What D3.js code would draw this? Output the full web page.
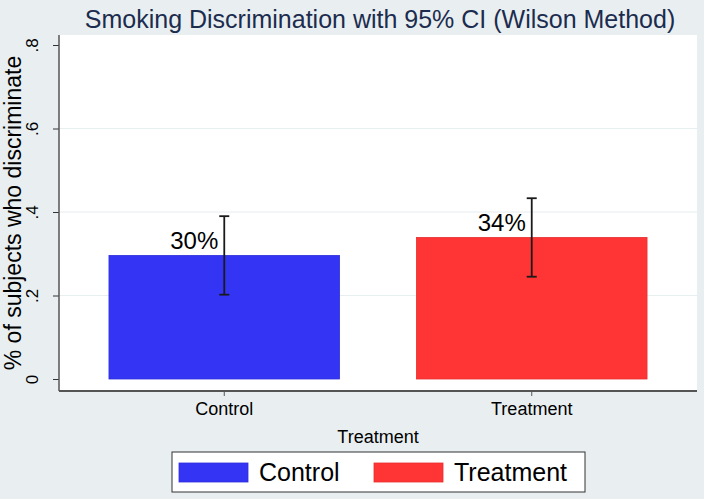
<!DOCTYPE html>
<html>
<head>
<meta charset="utf-8">
<script src="https://cdn.jsdelivr.net/npm/d3@7"></script>
<style>
  body { margin: 0; background: #e9eff1; }
  text { font-family: "Liberation Sans", Arial, sans-serif; }
</style>
</head>
<body>
<div id="chart"></div>
<script>
// data
var categories = ["Control", "Treatment"];
var means = [0.296, 0.339];
var ciLow = [0.202, 0.245];
var ciHigh = [0.390, 0.433];
var barColors = ["#3434f4", "#ff3434"];
var yTicks = [0, 0.2, 0.4, 0.6, 0.8];
var yTickLabels = ["0", ".2", ".4", ".6", ".8"];

var svgWidth = 704, svgHeight = 499;
var plot = {left: 59, right: 697, top: 35, bottom: 391};

var svg = d3.select("#chart")
    .append("svg")
    .attr("width", svgWidth)
    .attr("height", svgHeight);

svg.append("rect")
    .attr("width", svgWidth)
    .attr("height", svgHeight)
    .attr("fill", "#e9eff1");

// plot region
svg.append("rect")
    .attr("x", plot.left)
    .attr("y", plot.top)
    .attr("width", plot.right - plot.left)
    .attr("height", plot.bottom - plot.top)
    .attr("fill", "#ffffff");

var data = categories.map(function (c, i) {
    return {cat: c, mean: means[i], lo: ciLow[i], hi: ciHigh[i], color: barColors[i]};
});

var xScale = d3.scaleBand()
    .domain(categories)
    .range([plot.left, plot.right])
    .paddingInner(0.25)
    .paddingOuter(0.1625);

var yScale = d3.scaleLinear()
    .domain([0, 0.8])
    .range([379, 45]);

// gridlines
svg.append("g")
    .selectAll("line")
    .data(yTicks.filter(function (t) { return t > 0 && t < 0.8; }))
    .enter()
    .append("line")
    .attr("x1", plot.left)
    .attr("x2", plot.right)
    .attr("y1", function (d) { return yScale(d); })
    .attr("y2", function (d) { return yScale(d); })
    .attr("stroke", "#e6eef0")
    .attr("stroke-width", 1.2);

// bars
svg.append("g")
    .selectAll("rect")
    .data(data)
    .enter()
    .append("rect")
    .attr("x", function (d) { return xScale(d.cat); })
    .attr("y", function (d) { return yScale(d.mean); })
    .attr("width", xScale.bandwidth())
    .attr("height", function (d) { return yScale(0) - yScale(d.mean); })
    .attr("fill", function (d) { return d.color; })
    .attr("stroke", function (d) { return d3.color(d.color).darker(0.3); })
    .attr("stroke-width", 0.8);

// error bars
var cx = function (d) { return xScale(d.cat) + xScale.bandwidth() / 2; };
var err = svg.append("g")
    .attr("stroke", "#1a1a1a")
    .attr("stroke-width", 1.8);

err.selectAll(".stem")
    .data(data)
    .enter()
    .append("line")
    .attr("x1", cx).attr("x2", cx)
    .attr("y1", function (d) { return yScale(d.lo); })
    .attr("y2", function (d) { return yScale(d.hi); });

["lo", "hi"].forEach(function (k) {
    err.selectAll(".cap-" + k)
        .data(data)
        .enter()
        .append("line")
        .attr("x1", function (d) { return cx(d) - 5; })
        .attr("x2", function (d) { return cx(d) + 5; })
        .attr("y1", function (d) { return yScale(d[k]); })
        .attr("y2", function (d) { return yScale(d[k]); });
});

// value labels
svg.append("g")
    .selectAll("text")
    .data(data)
    .enter()
    .append("text")
    .attr("x", function (d) { return cx(d) - 6; })
    .attr("y", function (d) { return yScale(d.mean) - 6; })
    .attr("text-anchor", "end")
    .style("font-size", "24px")
    .attr("fill", "#000")
    .text(function (d) { return d3.format(".0%")(d.mean); });

// y axis
var leftAxis = d3.axisLeft(yScale)
    .tickValues(yTicks)
    .tickFormat(function (d, i) { return yTickLabels[i]; })
    .tickSize(6)
    .tickPadding(4);

var yAxisG = svg.append("g")
    .attr("transform", "translate(" + plot.left + ",0)")
    .call(leftAxis);
yAxisG.select(".domain").remove();
yAxisG.selectAll(".tick line").attr("stroke", "#333");
yAxisG.selectAll(".tick text")
    .attr("x", 0).attr("dy", 0)
    .attr("text-anchor", "middle")
    .attr("transform", "translate(-21,0) rotate(-90)")
    .style("font-size", "17px")
    .attr("fill", "#000");

svg.append("line")
    .attr("x1", plot.left).attr("x2", plot.left)
    .attr("y1", plot.top).attr("y2", plot.bottom)
    .attr("stroke", "#555")
    .attr("stroke-width", 1.5);

// x axis
var bottomAxis = d3.axisBottom(xScale).tickSize(5).tickPadding(6);
var xAxisG = svg.append("g")
    .attr("transform", "translate(0," + plot.bottom + ")")
    .call(bottomAxis);
xAxisG.select(".domain").remove();
xAxisG.selectAll(".tick line").attr("stroke", "#555");
xAxisG.selectAll(".tick text")
    .style("font-size", "18px")
    .attr("fill", "#000");

svg.append("line")
    .attr("x1", plot.left).attr("x2", plot.right)
    .attr("y1", plot.bottom).attr("y2", plot.bottom)
    .attr("stroke", "#555")
    .attr("stroke-width", 1.8);

// axis titles
svg.append("text")
    .attr("x", (plot.left + plot.right) / 2)
    .attr("y", 443)
    .attr("text-anchor", "middle")
    .style("font-size", "18px")
    .text("Treatment");

svg.append("text")
    .attr("transform", "translate(21," + (plot.top + plot.bottom) / 2 + ") rotate(-90)")
    .attr("text-anchor", "middle")
    .style("font-size", "23px")
    .text("% of subjects who discriminate");

// title
svg.append("text")
    .attr("x", 380)
    .attr("y", 28)
    .attr("text-anchor", "middle")
    .style("font-size", "25px")
    .attr("fill", "#1c2c4e")
    .text("Smoking Discrimination with 95% CI (Wilson Method)");

// legend
var legend = svg.append("g");
legend.append("rect")
    .attr("x", 172).attr("y", 452)
    .attr("width", 413).attr("height", 40)
    .attr("fill", "#fff")
    .attr("stroke", "#333")
    .attr("stroke-width", 1);

var items = legend.selectAll(".item")
    .data(data)
    .enter()
    .append("g")
    .attr("transform", function (d, i) { return "translate(" + (179 + i * 195) + ",463)"; });
items.append("rect")
    .attr("width", 69).attr("height", 19)
    .attr("fill", function (d) { return d.color; })
    .attr("stroke", function (d) { return d3.color(d.color).darker(0.3); })
    .attr("stroke-width", 0.8);
items.append("text")
    .attr("x", 80).attr("y", 18)
    .style("font-size", "25px")
    .text(function (d) { return d.cat; });
</script>
</body>
</html>
